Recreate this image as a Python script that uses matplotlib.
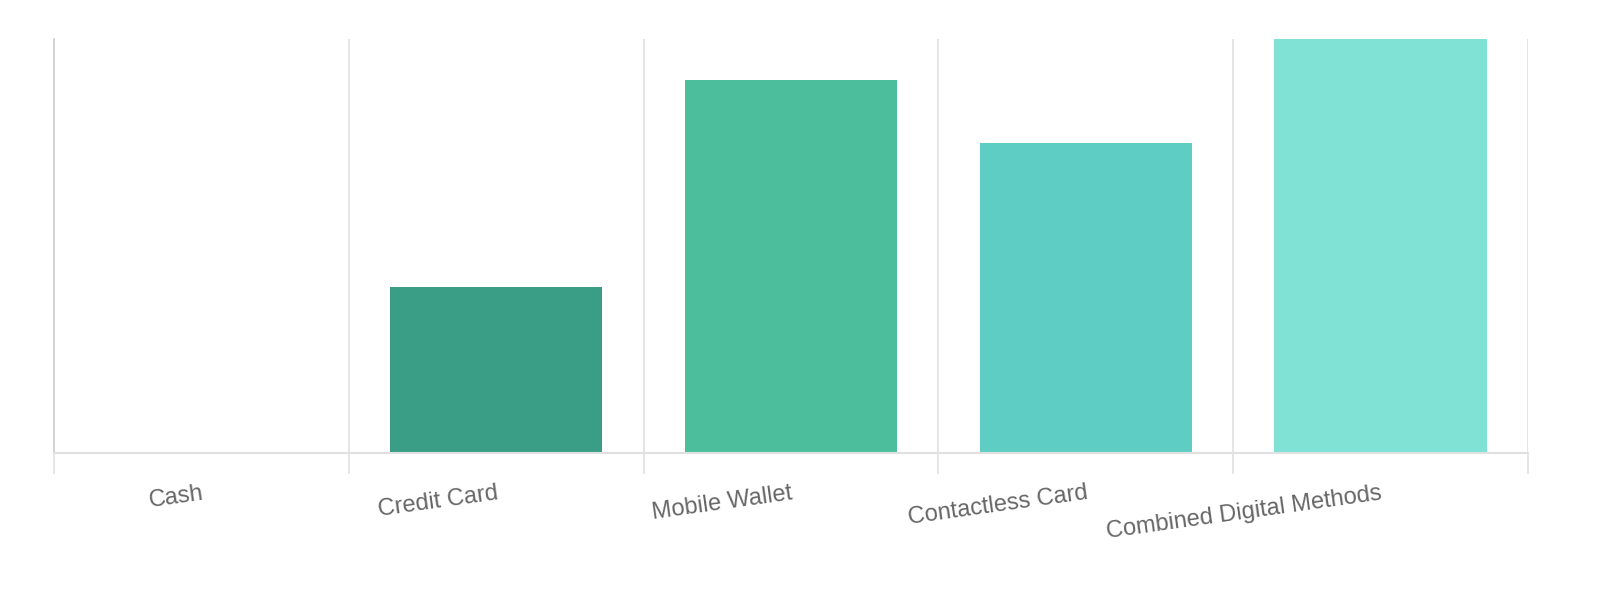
import numpy as np
import matplotlib.pyplot as plt

plt.rcParams['font.family'] = ['Liberation Sans', 'DejaVu Sans']

# payment method shares (relative scale)
methods = ["Cash", "Credit Card", "Mobile Wallet", "Contactless Card", "Combined Digital Methods"]
values = [0, 40, 90, 75, 100]
colors = ["#2e8b74", "#3a9e87", "#4dbe9c", "#5ecec4", "#80e1d5"]

fig = plt.figure(figsize=(16, 6), dpi=100)
ax = fig.add_axes([54/1600, 1-453/600, (1528-54)/1600, (453-39)/600])

x = np.arange(len(methods))
ax.bar(x, values, width=0.72, color=colors, zorder=2)

ax.set_xlim(-0.5, len(methods)-0.5)
ax.set_ylim(0, max(values))

# boundary ticks + vertical grid
bounds = np.arange(len(methods)+1) - 0.5
ax.set_xticks(bounds)
ax.set_xticklabels([])
ax.tick_params(axis='x', which='major', length=15, width=1.2, color="#e0e0e0")
for b in bounds[1:]:
    ax.axvline(b, color="#e0e0e0", lw=1.2, zorder=1)

ax.set_xticks(x, minor=True)
ax.set_xticklabels(methods, minor=True, rotation=8, ha='right', rotation_mode='anchor',
                   fontsize=17, color="#666666")
ax.tick_params(axis='x', which='minor', length=0, pad=21)

ax.set_yticks([])
for s in ['top', 'right']:
    ax.spines[s].set_visible(False)
ax.spines['left'].set_color("#cccccc")
ax.spines['left'].set_linewidth(1.2)
ax.spines['bottom'].set_color("#e0e0e0")
ax.spines['bottom'].set_linewidth(1.5)

fig.savefig("out.png", dpi=100)
